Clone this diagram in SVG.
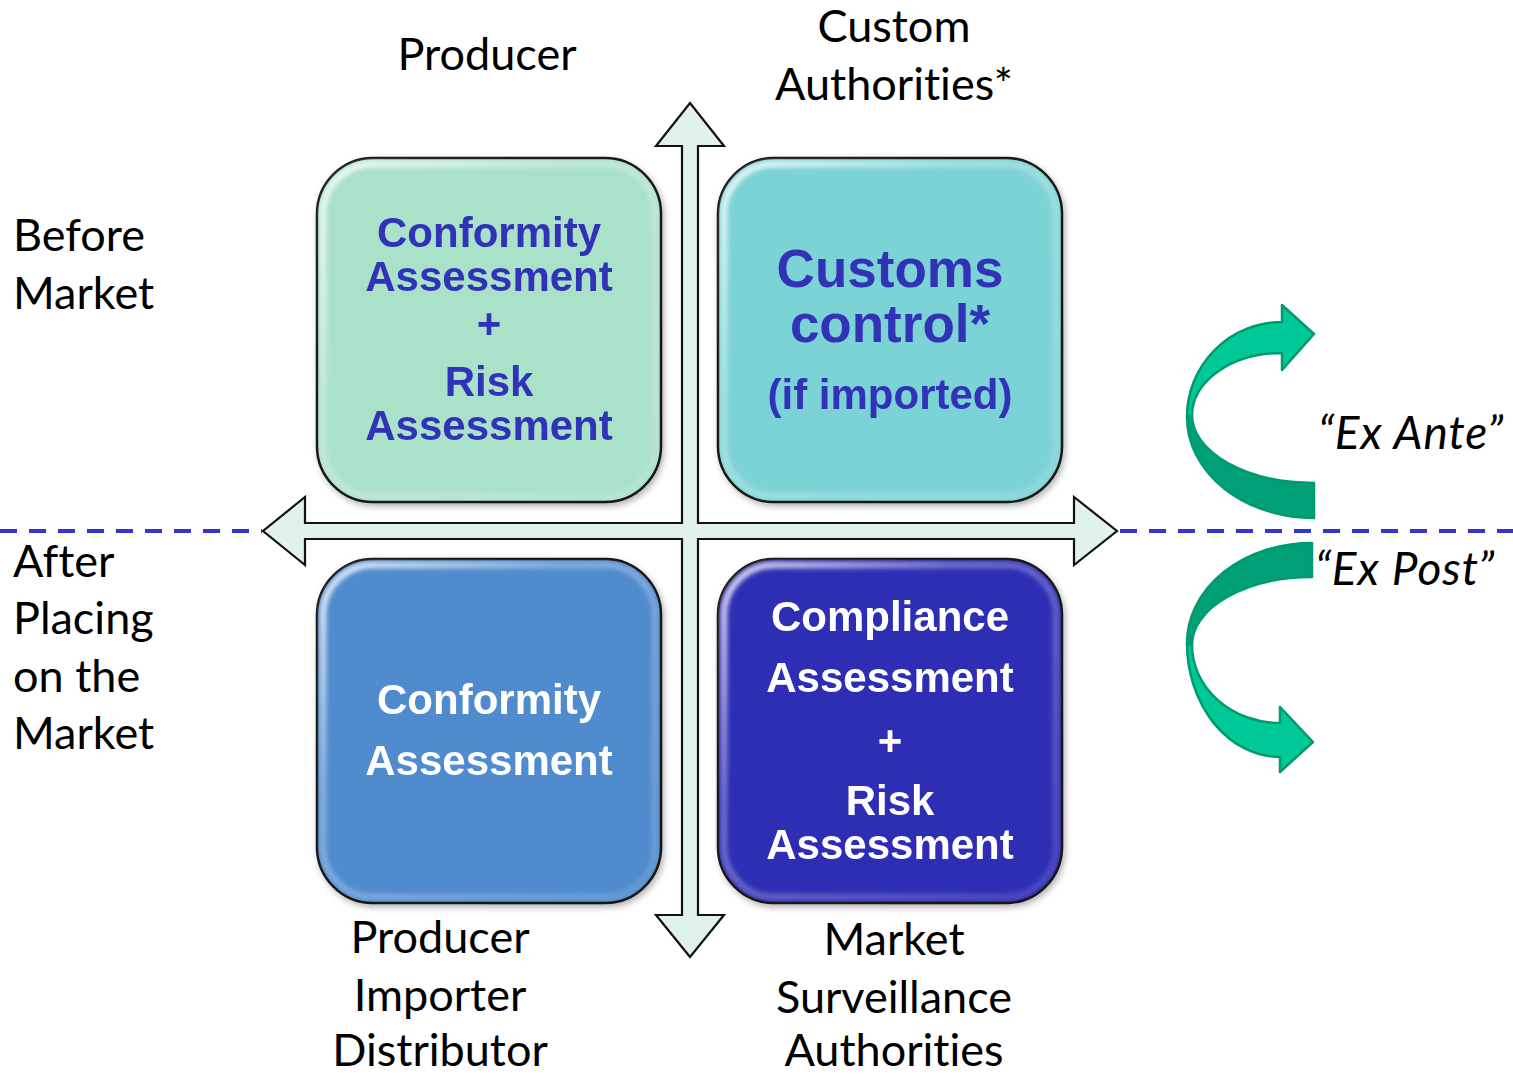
<svg xmlns="http://www.w3.org/2000/svg" width="1513" height="1074" viewBox="0 0 1513 1074">
  <defs>
    <style>
      .lbl { font-family: Lato, "Liberation Sans", sans-serif; font-size: 45px; fill: #000; font-variant-ligatures: none; }
      .ital { font-family: Lato, "Liberation Sans", sans-serif; font-size: 46px; font-style: italic; fill: #000; letter-spacing: 1px; font-variant-ligatures: none; }
      .bt { font-family: "Liberation Sans", Arial, sans-serif; font-weight: bold; font-size: 42px; text-anchor: middle; }
      .box { stroke: #111; stroke-width: 2.5; }
      .rim { fill: none; stroke: url(#rimGrad); stroke-width: 7; }
      .dash { stroke: #3535C8; stroke-width: 4; stroke-dasharray: 17 12; fill: none; }
      .axis { fill: #E0F2EA; stroke: #111; stroke-width: 2.2; stroke-linejoin: miter; }
      .light { fill: #00C896; stroke: #009A72; stroke-width: 2.5; stroke-linejoin: round; }
      .dark { fill: #00A077; stroke: #009A72; stroke-width: 2.5; stroke-linejoin: round; }
    </style>
    <linearGradient id="rimGrad" x1="0" y1="0" x2="1" y2="1">
      <stop offset="0" stop-color="#fff" stop-opacity="0.8"/>
      <stop offset="0.35" stop-color="#fff" stop-opacity="0.3"/>
      <stop offset="1" stop-color="#fff" stop-opacity="0.12"/>
    </linearGradient>
    <filter id="blur" x="-10%" y="-10%" width="120%" height="120%">
      <feGaussianBlur stdDeviation="2"/>
    </filter>
    <filter id="shadow" x="-10%" y="-10%" width="125%" height="125%">
      <feDropShadow dx="2" dy="3" stdDeviation="3" flood-color="#000" flood-opacity="0.3"/>
    </filter>
  </defs>

  <rect width="1513" height="1074" fill="#fff"/>

  <!-- dashed divider -->
  <g id="divider">
    <line class="dash" x1="0" y1="531" x2="262" y2="531"/>
    <line class="dash" x1="1120" y1="531" x2="1513" y2="531"/>
  </g>

  <!-- axes (connectors) -->
  <g id="connectors">
    <polygon class="axis" points="690,103 724,146 698,146 698,523 1074,523 1074,497 1117,531 1074,565 1074,539 698,539 698,915 724,915 690,957 656,915 682,915 682,539 305,539 305,565 263,531 305,497 305,523 682,523 682,146 656,146"/>
  </g>

  <!-- boxes -->
  <g id="box-tl" filter="url(#shadow)">
    <rect class="box" x="317" y="158" width="344" height="344" rx="56" fill="#AAE1C9"/>
    <rect class="rim" x="323" y="164" width="332" height="332" rx="50" filter="url(#blur)"/>
    <g class="bt" fill="#3131B8">
      <text x="489" y="247">Conformity</text>
      <text x="489" y="291">Assessment</text>
      <text x="489" y="338">+</text>
      <text x="489" y="396">Risk</text>
      <text x="489" y="440">Assessment</text>
    </g>
  </g>

  <g id="box-tr" filter="url(#shadow)">
    <rect class="box" x="718" y="158" width="344" height="344" rx="56" fill="#7CD3D6"/>
    <rect class="rim" x="724" y="164" width="332" height="332" rx="50" filter="url(#blur)"/>
    <g class="bt" fill="#3131B8">
      <text x="890" y="287" font-size="53">Customs</text>
      <text x="890" y="342" font-size="53">control*</text>
      <text x="890" y="409">(if imported)</text>
    </g>
  </g>

  <g id="box-bl" filter="url(#shadow)">
    <rect class="box" x="317" y="559" width="344" height="344" rx="56" fill="#4F8BCD"/>
    <rect class="rim" x="323" y="565" width="332" height="332" rx="50" filter="url(#blur)"/>
    <g class="bt" fill="#fff">
      <text x="489" y="714">Conformity</text>
      <text x="489" y="775">Assessment</text>
    </g>
  </g>

  <g id="box-br" filter="url(#shadow)">
    <rect class="box" x="718" y="559" width="344" height="344" rx="56" fill="#2E2DB4"/>
    <rect class="rim" x="724" y="565" width="332" height="332" rx="50" filter="url(#blur)"/>
    <g class="bt" fill="#fff">
      <text x="890" y="631">Compliance</text>
      <text x="890" y="692">Assessment</text>
      <text x="890" y="755">+</text>
      <text x="890" y="815">Risk</text>
      <text x="890" y="859">Assessment</text>
    </g>
  </g>

  <!-- curved arrows -->
  <g id="arrow-ex-ante">
    <path class="dark" d="M1314,518 A127,101 0 0 1 1187,417 L1192,415 A122,68 0 0 0 1314,483 Z"/>
    <path class="light" d="M1187,417 A95,95 0 0 1 1282,322 L1282,305 L1314,334 L1282,370 L1282,353 A90,62 0 0 0 1192,415 Z"/>
  </g>
  <g id="arrow-ex-post">
    <path class="dark" d="M1312,543 A125,100 0 0 0 1187,643 L1192,645 A120,68 0 0 1 1312,577 Z"/>
    <path class="light" d="M1187,643 A93,114 0 0 0 1280,757 L1280,772 L1313,742 L1280,707 L1280,723 A88,78 0 0 1 1192,645 Z"/>
  </g>

  <!-- outside labels -->
  <g id="labels">
    <text class="lbl" x="487" y="70" text-anchor="middle">Producer</text>
    <text class="lbl" x="894" y="42" text-anchor="middle">Custom</text>
    <text class="lbl" x="894" y="100" text-anchor="middle">Authorities*</text>
    <text class="lbl" x="13" y="251">Before</text>
    <text class="lbl" x="13" y="309">Market</text>
    <text class="lbl" x="13" y="577">After</text>
    <text class="lbl" x="13" y="634">Placing</text>
    <text class="lbl" x="13" y="692">on the</text>
    <text class="lbl" x="13" y="749">Market</text>
    <text class="lbl" x="440" y="953" text-anchor="middle">Producer</text>
    <text class="lbl" x="440" y="1011" text-anchor="middle">Importer</text>
    <text class="lbl" x="440" y="1066" text-anchor="middle">Distributor</text>
    <text class="lbl" x="894" y="955" text-anchor="middle">Market</text>
    <text class="lbl" x="894" y="1013" text-anchor="middle">Surveillance</text>
    <text class="lbl" x="894" y="1066" text-anchor="middle">Authorities</text>
    <text class="ital" x="1318" y="449">“Ex Ante”</text>
    <text class="ital" x="1315" y="585">“Ex Post”</text>
  </g>
</svg>
